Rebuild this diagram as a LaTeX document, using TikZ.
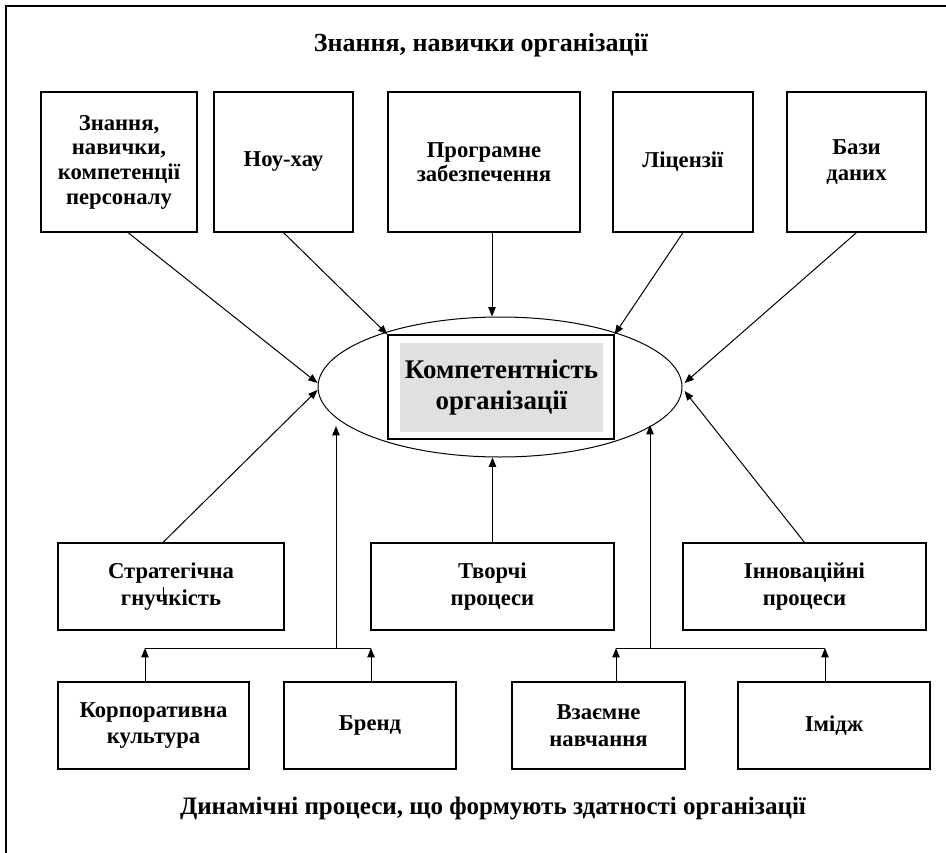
\documentclass[tikz,border=0pt]{standalone}
\usepackage{fontspec}
\setmainfont{Liberation Serif}
\usetikzlibrary{shapes.geometric,arrows.meta,calc}
\definecolor{shade}{HTML}{E0E0E0}
\begin{document}
\begin{tikzpicture}[x=0.75pt,y=-0.75pt,
  sz/.style 2 args={minimum width=#1*0.75pt,minimum height=#2*0.75pt},
  box/.style={draw,line width=0.9pt,inner sep=0pt,align=center,font=\fontsize{17pt}{20pt}\bfseries\selectfont},
  arr/.style={line width=0.75pt,-{Triangle[length=7pt,width=5.5pt]}},
  ln/.style={line width=0.75pt},
  ttl/.style={inner sep=0pt,font=\fontsize{19.5pt}{21pt}\bfseries\selectfont}]
\useasboundingbox (0,0) rectangle (946,853);
% frame
\draw[line width=1.9pt,line join=miter] (6,860) -- (6,6) -- (950,6);
% titles
\node[ttl] (top) at (481,45) {Знання, навички організації};
\node[ttl,font=\fontsize{18.8pt}{21pt}\bfseries\selectfont] (bot) at (493,808) {Динамічні процеси, що формують здатності організації};
% top boxes
\node[box,sz={156}{140},font=\fontsize{17pt}{18.5pt}\bfseries\selectfont] (b1) at (119,162) {Знання,\\навички,\\компетенції\\персоналу};
\node[box,sz={139}{140}] (b2) at (283.5,162) {Ноу-хау};
\node[box,sz={192}{140},font=\fontsize{17pt}{18pt}\bfseries\selectfont] (b3) at (484,162) {Програмне\\забезпечення};
\node[box,sz={140}{140}] (b4) at (683,162) {Ліцензії};
\node[box,sz={139}{140},font=\fontsize{17pt}{19pt}\bfseries\selectfont] (b5) at (856.5,162) {Бази\\даних};
% centre
\node[draw,ellipse,line width=0.75pt,inner sep=0pt,sz={364}{140}] (ell) at (500,387) {};
\node[draw,line width=0.9pt,fill=white,inner sep=0pt,sz={226}{104}] (inner) at (501,387) {};
\node[fill=shade,inner sep=0pt,sz={203}{89},align=center,font=\fontsize{20.2pt}{23.5pt}\bfseries\selectfont] (core) at (501.5,387.5) {Компетентність\\організації};
% middle boxes
\node[box,sz={226}{87}] (S) at (171,586.5) {Стратегічна\\гнучкість};
\node[box,sz={243}{87}] (T) at (492.5,586.5) {Творчі\\процеси};
\node[box,sz={243}{87}] (I) at (804.5,586.5) {Інноваційні\\процеси};
% bottom boxes
\node[box,sz={191}{87}] (K) at (153.5,725.5) {Корпоративна\\культура};
\node[box,sz={172}{87}] (Br) at (370,725.5) {Бренд};
\node[box,sz={173}{87}] (V) at (598.5,725.5) {Взаємне\\навчання};
\node[box,sz={192}{87}] (Im) at (834,725.5) {Імідж};
% top arrows
\draw[arr] ($(b1.south)+(9,0)$) -- ($(ell.west)+(0,-4)$);
\draw[arr] (b2.south) -- (inner.north west);
\draw[arr] ($(b3.south)+(8,0)$) -- ($(ell.north)+(-8,0)$);
\draw[arr] (b4.south) -- (inner.north east);
\draw[arr] (b5.south) -- ($(ell.east)+(2,-4)$);
% middle arrows
\draw[arr] ($(S.north)+(-8,0)$) -- ($(ell.west)+(0,3)$);
\draw[ln] ($(S.center)+(-8,0)$) -- ++(0,12);
\draw[arr] (T.north) -- (T.north |- ell.south);
\draw[arr] (I.north) -- ($(ell.east)+(2,4)$);
% bus coordinates
\coordinate (lk) at (145,648);
\coordinate (lb) at (371,648);
\coordinate (lj) at (336,648);
\coordinate (le) at (336,426);
\coordinate (rv) at (616,648);
\coordinate (ri) at (825,648);
\coordinate (rj) at (650,648);
\coordinate (re) at (650,425);
\draw[ln] (lk) -- (lb);
\draw[ln] (rv) -- (ri);
\draw[arr] (K.north -| lk) -- (lk);
\draw[arr] (Br.north -| lb) -- (lb);
\draw[arr] (V.north -| rv) -- (rv);
\draw[arr] (Im.north -| ri) -- (ri);
\draw[arr] (lj) -- (le);
\draw[arr] (rj) -- (re);
\end{tikzpicture}
\end{document}
